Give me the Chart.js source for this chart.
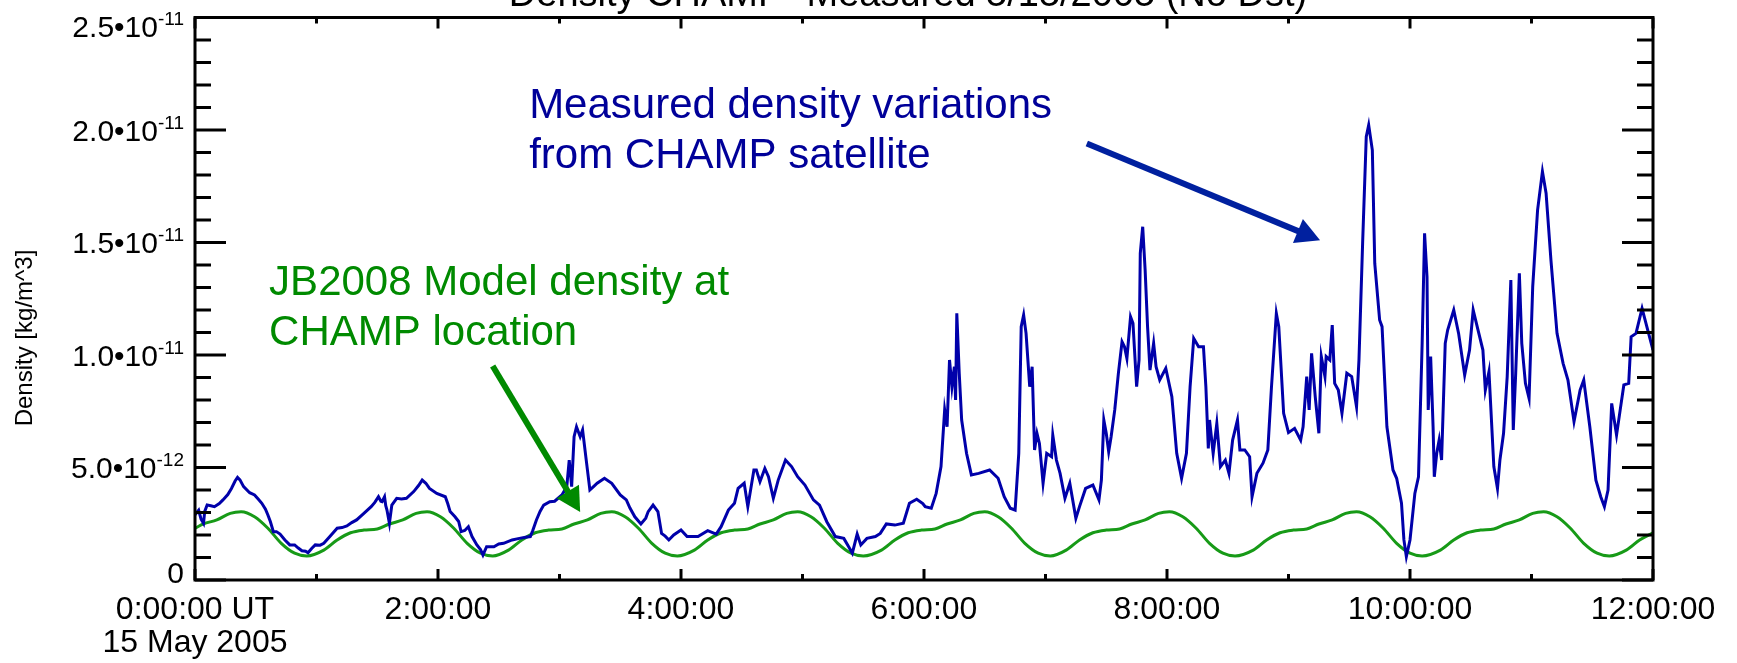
<!DOCTYPE html>
<html><head><meta charset="utf-8">
<script src="https://cdn.jsdelivr.net/npm/chart.js@4/dist/chart.umd.min.js"></script>
<style>html,body{margin:0;padding:0;background:#fff;overflow:hidden}</style>
</head><body>
<canvas id="c" width="1737" height="663"></canvas>
<script>
// Hours since 0:00 UT, 15 May 2005; densities in units of 1e-12 kg/m^3
const measuredHours = [0.00,0.03,0.05,0.07,0.08,0.10,0.13,0.16,0.20,0.23,0.27,0.30,0.33,0.35,0.37,0.40,0.45,0.49,0.52,0.55,0.58,0.60,0.62,0.645,0.67,0.70,0.74,0.78,0.82,0.85,0.88,0.91,0.93,0.96,0.99,1.03,1.06,1.11,1.17,1.21,1.25,1.29,1.33,1.39,1.45,1.48,1.51,1.53,1.54,1.56,1.57,1.58,1.60,1.62,1.66,1.70,1.74,1.80,1.84,1.87,1.90,1.93,1.99,2.06,2.08,2.10,2.14,2.17,2.19,2.22,2.25,2.28,2.32,2.35,2.37,2.40,2.46,2.50,2.54,2.61,2.67,2.72,2.76,2.78,2.81,2.84,2.87,2.92,2.96,3.02,3.06,3.08,3.10,3.12,3.14,3.17,3.19,3.22,3.25,3.28,3.31,3.37,3.43,3.50,3.55,3.58,3.62,3.67,3.71,3.73,3.77,3.81,3.84,3.87,3.90,3.94,4.00,4.05,4.14,4.22,4.29,4.33,4.39,4.44,4.47,4.52,4.55,4.60,4.62,4.65,4.69,4.72,4.76,4.80,4.86,4.91,4.96,5.02,5.09,5.14,5.20,5.27,5.34,5.38,5.41,5.45,5.48,5.53,5.60,5.64,5.69,5.76,5.83,5.88,5.94,5.99,6.01,6.06,6.10,6.14,6.17,6.19,6.21,6.23,6.25,6.26,6.27,6.29,6.31,6.35,6.39,6.45,6.54,6.61,6.66,6.71,6.75,6.78,6.80,6.82,6.84,6.87,6.89,6.91,6.93,6.95,6.98,7.01,7.05,7.06,7.09,7.12,7.16,7.20,7.25,7.28,7.33,7.39,7.44,7.46,7.48,7.50,7.52,7.54,7.57,7.60,7.63,7.65,7.67,7.70,7.72,7.75,7.77,7.78,7.80,7.82,7.84,7.86,7.89,7.91,7.94,7.99,8.04,8.08,8.12,8.16,8.19,8.22,8.26,8.30,8.32,8.34,8.35,8.38,8.41,8.44,8.48,8.51,8.54,8.58,8.60,8.64,8.68,8.70,8.74,8.79,8.83,8.86,8.90,8.92,8.96,9.00,9.05,9.10,9.12,9.15,9.17,9.19,9.22,9.25,9.27,9.30,9.31,9.34,9.36,9.38,9.41,9.44,9.48,9.52,9.56,9.58,9.61,9.64,9.66,9.69,9.71,9.75,9.77,9.81,9.86,9.89,9.93,9.95,9.97,10.00,10.04,10.07,10.10,10.12,10.14,10.15,10.17,10.19,10.20,10.22,10.24,10.26,10.29,10.31,10.36,10.40,10.45,10.49,10.52,10.56,10.60,10.62,10.65,10.69,10.72,10.74,10.77,10.80,10.83,10.85,10.87,10.90,10.92,10.95,10.98,11.01,11.05,11.09,11.12,11.16,11.21,11.26,11.30,11.35,11.40,11.43,11.48,11.53,11.57,11.60,11.63,11.66,11.70,11.73,11.76,11.80,11.82,11.86,11.91,11.96,12.00];
const measuredDensity = [2.90,3.10,2.70,2.52,3.05,3.33,3.30,3.26,3.40,3.56,3.80,4.07,4.40,4.56,4.45,4.15,3.88,3.78,3.60,3.41,3.15,2.89,2.60,2.15,2.15,2.04,1.78,1.56,1.56,1.42,1.30,1.28,1.21,1.40,1.56,1.55,1.63,1.93,2.30,2.33,2.40,2.55,2.67,2.96,3.26,3.45,3.70,3.50,3.48,3.70,3.30,3.11,2.52,3.33,3.63,3.60,3.63,3.93,4.20,4.44,4.30,4.07,3.85,3.70,3.40,3.04,2.81,2.60,2.15,2.20,2.37,1.93,1.56,1.35,1.11,1.48,1.48,1.60,1.63,1.78,1.85,1.90,1.93,2.20,2.67,3.05,3.33,3.48,3.50,3.78,4.15,5.33,4.15,6.37,6.81,6.37,6.67,5.33,4.00,4.15,4.30,4.52,4.30,3.78,3.56,3.20,2.81,2.49,2.75,3.04,3.33,3.04,2.07,1.95,1.78,2.00,2.22,1.93,1.93,2.19,2.04,2.37,3.11,3.41,4.07,4.30,3.26,4.89,4.89,4.37,4.96,4.59,3.63,4.44,5.33,5.04,4.59,4.22,3.56,3.33,2.59,1.93,1.85,1.48,1.19,2.04,1.56,1.85,1.93,2.07,2.49,2.44,2.52,3.41,3.59,3.40,3.26,3.19,3.85,5.04,7.56,6.81,9.78,8.59,9.48,8.00,11.85,9.19,7.11,5.63,4.67,4.74,4.89,4.52,3.70,3.19,3.11,5.63,11.26,11.78,10.96,8.59,9.48,5.78,6.52,6.07,4.30,5.63,5.48,6.44,5.33,4.74,3.63,4.30,2.74,3.26,4.07,4.22,3.56,4.44,7.11,6.52,5.70,6.37,7.56,9.19,10.59,10.37,9.85,11.70,11.41,8.59,9.78,14.52,15.70,13.78,11.26,9.33,10.52,9.48,8.89,9.41,8.15,5.63,4.52,5.63,8.59,10.74,10.37,10.37,8.59,5.85,7.11,5.63,6.96,5.04,5.33,4.74,6.22,7.11,5.78,5.78,5.48,3.70,4.74,5.19,5.78,8.59,11.85,11.26,7.41,6.55,6.74,6.22,6.81,9.04,7.56,10.07,8.15,6.52,9.93,9.04,9.93,9.78,11.33,8.74,8.44,7.41,9.19,9.04,7.70,9.78,14.96,19.70,20.22,19.11,14.07,11.56,11.26,6.81,4.89,4.52,3.41,1.78,1.04,1.78,3.85,4.59,10.52,15.41,13.48,7.56,9.93,6.81,4.59,5.63,6.22,5.33,10.52,11.11,12.00,10.96,9.11,10.22,12.00,11.11,10.22,8.44,9.26,5.04,4.07,5.33,6.52,9.04,13.33,6.67,9.19,13.63,10.52,8.74,8.07,13.04,16.44,18.15,17.19,14.22,10.96,9.63,8.89,7.04,8.44,8.89,6.81,4.44,3.70,3.26,4.00,7.85,6.44,7.56,8.67,8.74,10.81,10.96,12.07,11.04,10.22];
const modelHours = [0.00,0.07,0.18,0.29,0.38,0.49,0.60,0.71,0.82,0.92,1.06,1.17,1.28,1.39,1.50,1.60,1.71,1.82,1.91,2.02,2.13,2.24,2.35,2.45,2.58,2.69,2.80,2.91,3.02,3.12,3.23,3.34,3.43,3.54,3.65,3.76,3.87,3.97,4.11,4.22,4.33,4.44,4.55,4.65,4.76,4.87,4.96,5.07,5.18,5.29,5.40,5.50,5.65,5.76,5.87,5.98,6.09,6.19,6.30,6.41,6.50,6.61,6.72,6.83,6.94,7.04,7.17,7.28,7.39,7.50,7.61,7.71,7.82,7.93,8.02,8.13,8.24,8.35,8.46,8.56,8.71,8.82,8.93,9.04,9.15,9.25,9.36,9.47,9.56,9.67,9.78,9.89,10.00,10.10,10.25,10.36,10.47,10.58,10.69,10.79,10.90,11.01,11.10,11.21,11.32,11.43,11.54,11.64,11.78,11.89,12.00];
const modelDensity = [2.30,2.49,2.67,2.96,3.03,2.81,2.30,1.63,1.19,1.07,1.33,1.78,2.10,2.22,2.27,2.49,2.67,2.96,3.03,2.81,2.30,1.63,1.19,1.07,1.33,1.78,2.10,2.22,2.27,2.49,2.67,2.96,3.03,2.81,2.30,1.63,1.19,1.07,1.33,1.78,2.10,2.22,2.27,2.49,2.67,2.96,3.03,2.81,2.30,1.63,1.19,1.07,1.33,1.78,2.10,2.22,2.27,2.49,2.67,2.96,3.03,2.81,2.30,1.63,1.19,1.07,1.33,1.78,2.10,2.22,2.27,2.49,2.67,2.96,3.03,2.81,2.30,1.63,1.19,1.07,1.33,1.78,2.10,2.22,2.27,2.49,2.67,2.96,3.03,2.81,2.30,1.63,1.19,1.07,1.33,1.78,2.10,2.22,2.27,2.49,2.67,2.96,3.03,2.81,2.30,1.63,1.19,1.07,1.33,1.78,2.10];
const xTickValues = [0,2,4,6,8,10,12];
const xTickLabels = [["0:00:00 UT","15 May 2005"],"2:00:00","4:00:00","6:00:00","8:00:00","10:00:00","12:00:00"];
const xMinorTicks = [0,1,2,3,4,5,6,7,8,9,10,11,12];
const yTickValues = [0,5,10,15,20,25];
const yTickMantissas = ["0","5.0•10","1.0•10","1.5•10","2.0•10","2.5•10"];
const yTickExponents = ["","-12","-11","-11","-11","-11"];
const yMinorTicks = [0,1,2,3,4,5,6,7,8,9,10,11,12,13,14,15,16,17,18,19,20,21,22,23,24,25];
const titleText = "Density CHAMP- Measured 5/15/2005 (No Dst)";
const yAxisTitle = "Density [kg/m^3]";
const measuredNote = ["Measured density variations","from CHAMP satellite"];
const modelNote = ["JB2008 Model density at","CHAMP location"];

// annotation anchors (in data units: hours, 1e-12 kg/m^3)
const notes = {
  measured: {x: 2.75, y: [20.53, 18.31], color: '#000099'},
  model: {x: 0.61, y: [12.67, 10.45], color: '#008a00'},
  measuredArrow: {from: [7.34, 19.4], to: [9.26, 15.1], color: '#00209f'},
  modelArrow: {from: [2.45, 9.51], to: [3.17, 3.02], color: '#008a00'}
};

const FONT = '"Liberation Sans", Arial, Helvetica, sans-serif';

function arrow(ctx, x1, y1, x2, y2, color) {
  const dx = x2 - x1, dy = y2 - y1, L = Math.hypot(dx, dy);
  const ux = dx / L, uy = dy / L, px = -uy, py = ux;
  const hl = 24, hw = 13;
  ctx.strokeStyle = color; ctx.fillStyle = color;
  ctx.lineWidth = 6; ctx.lineCap = 'butt';
  ctx.beginPath(); ctx.moveTo(x1, y1); ctx.lineTo(x2 - ux * hl * 0.8, y2 - uy * hl * 0.8); ctx.stroke();
  ctx.beginPath();
  ctx.moveTo(x2, y2);
  ctx.lineTo(x2 - ux * hl + px * hw, y2 - uy * hl + py * hw);
  ctx.lineTo(x2 - ux * hl - px * hw, y2 - uy * hl - py * hw);
  ctx.closePath(); ctx.fill();
}

const decor = {
  id: 'decor',
  afterDatasetsDraw(chart) {
    const {ctx, chartArea: a, scales: {x, y}} = chart;
    ctx.save();
    ctx.strokeStyle = '#000'; ctx.lineWidth = 3;
    const seg = (x1, y1, x2, y2) => { ctx.beginPath(); ctx.moveTo(x1, y1); ctx.lineTo(x2, y2); ctx.stroke(); };
    xMinorTicks.forEach(h => {
      const p = x.getPixelForValue(h);
      const len = xTickValues.includes(h) ? 11 : 6;
      seg(p, a.bottom, p, a.bottom - len);
      seg(p, a.top, p, a.top + len);
    });
    yMinorTicks.forEach(v => {
      const p = y.getPixelForValue(v);
      const len = yTickValues.includes(v) ? 31 : 16;
      seg(a.left, p, a.left + len, p);
      seg(a.right, p, a.right - len, p);
    });
    ctx.strokeRect(a.left, a.top, a.right - a.left, a.bottom - a.top);

    // y tick labels with superscript exponents
    ctx.fillStyle = '#000';
    ctx.textBaseline = 'alphabetic'; ctx.textAlign = 'left';
    const right = a.left - 11;
    yTickValues.forEach((v, i) => {
      let cy = y.getPixelForValue(v);
      cy = Math.min(Math.max(cy, a.top + 9), a.bottom - 8);
      const base = cy + 10.5;
      ctx.font = '30px ' + FONT;
      const mw = ctx.measureText(yTickMantissas[i]).width;
      ctx.font = '19px ' + FONT;
      const ew = yTickExponents[i] ? ctx.measureText(yTickExponents[i]).width : 0;
      const x0 = right - mw - ew;
      ctx.font = '30px ' + FONT;
      ctx.fillText(yTickMantissas[i], x0, base);
      if (ew) { ctx.font = '19px ' + FONT; ctx.fillText(yTickExponents[i], x0 + mw, base - 12); }
    });

    // title (cut at the top edge as in the original)
    ctx.font = '38px ' + FONT;
    ctx.textAlign = 'center';
    ctx.fillText(titleText, 908, 6);

    // y axis title
    ctx.save();
    ctx.translate(25, 338);
    ctx.rotate(-Math.PI / 2);
    ctx.font = '24px ' + FONT;
    ctx.textBaseline = 'middle';
    ctx.fillText(yAxisTitle, 0, 0);
    ctx.restore();

    // annotation texts
    ctx.font = '42px ' + FONT;
    ctx.textAlign = 'left'; ctx.textBaseline = 'alphabetic';
    [[measuredNote, notes.measured], [modelNote, notes.model]].forEach(([lines, n]) => {
      ctx.fillStyle = n.color;
      lines.forEach((t, i) => ctx.fillText(t, x.getPixelForValue(n.x), y.getPixelForValue(n.y[i])));
    });
    [notes.measuredArrow, notes.modelArrow].forEach(ar => {
      arrow(ctx, x.getPixelForValue(ar.from[0]), y.getPixelForValue(ar.from[1]),
        x.getPixelForValue(ar.to[0]), y.getPixelForValue(ar.to[1]), ar.color);
    });
    ctx.restore();
  }
};

new Chart(document.getElementById('c'), {
  type: 'line',
  data: {
    datasets: [
      {
        label: 'Measured (CHAMP)',
        data: measuredHours.map((h, i) => ({x: h, y: measuredDensity[i]})),
        borderColor: '#0000aa', borderWidth: 3, pointRadius: 0, tension: 0, fill: false
      },
      {
        label: 'JB2008 model',
        data: modelHours.map((h, i) => ({x: h, y: modelDensity[i]})),
        borderColor: '#179a17', borderWidth: 3, pointRadius: 0, cubicInterpolationMode: 'monotone', fill: false
      }
    ]
  },
  options: {
    responsive: false, animation: false, devicePixelRatio: 1,
    layout: {padding: {top: 17.5, right: 84, left: 0, bottom: 0}},
    plugins: {legend: {display: false}, tooltip: {enabled: false}, title: {display: false}},
    scales: {
      x: {
        type: 'linear', min: 0, max: 12,
        grid: {display: false, drawTicks: false},
        border: {display: false},
        afterBuildTicks: s => { s.ticks = xTickValues.map(v => ({value: v})); },
        afterFit: s => { s.height = 83; },
        ticks: {
          autoSkip: false, maxRotation: 0, padding: 14, color: '#000',
          font: {family: FONT, size: 32, lineHeight: 1.03},
          callback: v => xTickLabels[xTickValues.indexOf(v)]
        }
      },
      y: {
        type: 'linear', min: 0, max: 25,
        grid: {display: false, drawTicks: false},
        border: {display: false},
        afterBuildTicks: s => { s.ticks = yTickValues.map(v => ({value: v})); },
        afterFit: s => { s.width = 195; },
        ticks: {display: false}
      }
    }
  },
  plugins: [decor]
});
</script>
</body></html>
